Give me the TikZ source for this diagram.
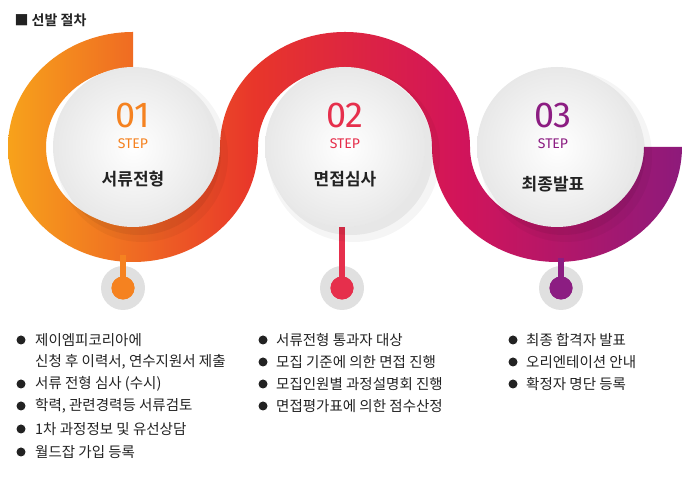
\documentclass[tikz,border=0pt]{standalone}
\usepackage{fontspec}
\setmainfont{Noto Sans CJK KR}
\newfontfamily\kbold{Noto Sans CJK KR Bold}
\newfontfamily\numfont{Fira Sans}
\definecolor{bo}{HTML}{F7A21B}
\definecolor{br}{HTML}{E8362A}
\definecolor{bc}{HTML}{D2145A}
\definecolor{bp}{HTML}{8B1A7C}
\definecolor{s1}{HTML}{F58220}
\definecolor{s2}{HTML}{E62F4C}
\definecolor{s3}{HTML}{8C1D82}
\definecolor{txt}{HTML}{222222}
\pgfdeclarehorizontalshading{band}{100bp}{color(0bp)=(bo); color(25bp)=(bo); color(43bp)=(br); color(58bp)=(bc); color(75bp)=(bp); color(100bp)=(bp)}
\begin{document}
\begin{tikzpicture}[x=1pt,y=1pt,
  disc/.style={circle,minimum size=160pt,inner sep=0pt,shading=radial,inner color=white,outer color=black!9},
  num/.style={font=\numfont\fontsize{36}{36}\selectfont},
  steplbl/.style={font=\numfont\fontsize{14}{14}\selectfont},
  kname/.style={font=\kbold\fontsize{17}{17}\selectfont,text=txt},
  item/.style={anchor=west,font=\fontsize{14.5}{14}\selectfont,text=txt,inner sep=0pt},
  bul/.style={circle,fill=txt,minimum size=9pt,inner sep=0pt}]
\useasboundingbox (0,0) rectangle (698,486);
\node[anchor=west,font=\kbold\fontsize{14}{14}\selectfont,text=txt] (title) at (11,466) {■ 선발 절차};
% band
\begin{scope}
\clip (133,454) arc[start angle=90,end angle=360,x radius=125pt,y radius=115pt]
  arc[start angle=180,end angle=0,x radius=87pt,y radius=79pt]
  arc[start angle=180,end angle=360,x radius=125pt,y radius=115pt]
  -- (644,339) arc[start angle=360,end angle=180,x radius=87pt,y radius=79pt]
  arc[start angle=0,end angle=180,x radius=125pt,y radius=115pt]
  arc[start angle=360,end angle=90,x radius=87pt,y radius=79pt] -- cycle;
\shade[shading=band] (8,200) rectangle (690,470);
\end{scope}
% stems
\foreach \x/\y/\c/\n in {123/231/s1/1,342/264/s2/2,561/228/s3/3}{
  \fill[black!12] (\x,198) circle[radius=22pt];
  \coordinate (top\n) at (\x,\y);
  \node[circle,fill=\c,minimum size=23pt,inner sep=0pt] (dot\n) at (\x,198) {};
  \draw[\c,line width=6pt] (top\n) -- (dot\n.center);
  \node[circle,fill=\c,minimum size=23pt,inner sep=0pt] at (\x,198) {};
}
% circles with shadows
\foreach \x/\n in {133/1,345/2,557/3}{
  \fill[black,opacity=0.04] (\x+9,330) circle[radius=86pt];
  \fill[black,opacity=0.06] (\x+6,333) circle[radius=82pt];
  \node[disc] (c\n) at (\x,339) {};
}
\node[num,text=s1] (n1) at (133,370) {01};
\node[steplbl,text=s1] (st1) at (133,342) {STEP};
\node[kname] (k1) at (133,307) {서류전형};
\node[num,text=s2] (n2) at (345,370) {02};
\node[steplbl,text=s2] (st2) at (345,342) {STEP};
\node[kname] (k2) at (345,307) {면접심사};
\node[num,text=s3] (n3) at (553,370) {03};
\node[steplbl,text=s3] (st3) at (553,342) {STEP};
\node[kname] (k3) at (553,302) {최종발표};
% lists
\foreach \y/\t [count=\i] in {146/제이엠피코리아에,124/신청 후 이력서{,} 연수지원서 제출,102/서류 전형 심사 (수시),80/{학력, 관련경력등 서류검토},57/1차 과정정보 및 유선상담,34/월드잡 가입 등록}{
  \node[item] (a\i) at (35,\y) {\t};
}
\foreach \y/\i in {146/1,102/3,80/4,57/5,34/6}{\node[bul] (ba\i) at (21,\y) {};}
\foreach \y/\t [count=\i] in {146/서류전형 통과자 대상,124/모집 기준에 의한 면접 진행,102/모집인원별 과정설명회 진행,80/면접평가표에 의한 점수산정}{
  \node[item] (b\i) at (276,\y) {\t};
  \node[bul] (bb\i) at (263,\y) {};
}
\foreach \y/\t [count=\i] in {146/최종 합격자 발표,124/오리엔테이션 안내,102/확정자 명단 등록}{
  \node[item] (d\i) at (526,\y) {\t};
  \node[bul] (bd\i) at (513,\y) {};
}
\end{tikzpicture}
\end{document}
